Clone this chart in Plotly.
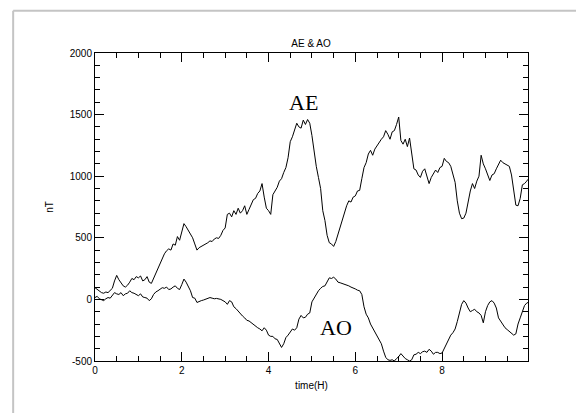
import plotly.graph_objects as go

# time (hours), sampled every 0.05 h, plus last sample
time_h = [round(i * 0.05, 2) for i in range(200)] + [9.98]

ae = [95, 80, 70, 55, 50, 60, 55, 75, 90, 150,
      195, 160, 130, 110, 100, 115, 140, 170, 160, 185,
      175, 190, 150, 160, 185, 140, 130, 170, 220, 260,
      300, 330, 370, 395, 410, 400, 450, 440, 510, 480,
      560, 615, 590, 560, 520, 500, 450, 400, 420, 430,
      440, 445, 460, 475, 470, 490, 500, 495, 520, 560,
      580, 690, 700, 670, 720, 690, 740, 700, 720, 760,
      690, 730, 770, 810, 820, 860, 880, 940, 830, 740,
      720, 690, 850, 880, 910, 960, 980, 1030, 1070, 1150,
      1280, 1320, 1380, 1430, 1400, 1390, 1455, 1420, 1460, 1430,
      1330, 1180, 1080, 990, 900, 720, 640, 520, 460, 450,
      430, 470, 530, 580, 650, 720, 760, 800, 790, 830,
      840, 880, 885, 980, 1070, 1110, 1180, 1210, 1170, 1220,
      1250, 1280, 1300, 1320, 1370, 1340, 1300, 1360, 1370, 1420,
      1480, 1290, 1260, 1300, 1240, 1310, 1200, 1060, 1050, 1010,
      990, 1040, 1060, 1000, 940, 990, 1020, 1050, 1030, 1070,
      1080, 1145, 1120, 1110, 1080, 1020, 950, 800, 700, 655,
      660, 700, 800, 880, 940, 900, 960, 1000, 1170, 1100,
      1060, 1010, 965, 1010, 1020, 1060, 1090, 1130, 1110, 1100,
      1090, 1080, 1010, 900, 765, 760, 820, 930, 940, 960,
      975]

ao = [15, 25, 5, -5, -10, 5, 15, 10, 30, 55,
      45, 40, 55, 30, 45, 50, 70, 55, 50, 40,
      30, 45, 20, 15, 10, -10, 5, 40, 60, 70,
      85, 95, 90, 100, 80, 85, 100, 110, 90, 80,
      120, 165, 140, 110, 70, 15, 10, -25, -15, -10,
      -5, 0, 5, 15, 10, 5, 8, 5, 0, -10,
      -20, -40, -10, -20, -60, -75, -95, -120, -135, -150,
      -170, -175, -190, -205, -215, -230, -240, -255, -230, -250,
      -290, -300, -300, -320, -325, -360, -390, -360, -310, -290,
      -260, -240, -250, -230, -160, -130, -150, -145, -120, -110,
      -20, 10, 50, 70, 90, 105, 110, 140, 175, 170,
      180, 165, 140, 135, 130, 125, 120, 110, 100, 95,
      85, 75, 70, 40, -60, -120, -150, -200, -230, -260,
      -295, -320, -360, -420, -470, -490, -495, -490, -500, -480,
      -465, -440, -460, -480, -490, -500, -490, -450, -445, -430,
      -440, -425, -420, -430, -405, -420, -445, -430, -430, -440,
      -435, -400, -360, -320, -290, -270, -240, -180, -100, -40,
      -10, -30, -70, -100, -90, -80, -100, -110, -130, -190,
      -100, -50, -20, -10, -30, -70, -150, -180, -200, -230,
      -245, -260, -270, -290, -280, -200, -150, -90, -50, -30,
      -25]

x_ticks = [0, 2, 4, 6, 8]
y_ticks = [-500, 0, 500, 1000, 1500, 2000]

fig = go.Figure()
fig.add_trace(go.Scatter(x=time_h, y=ae, mode="lines",
                         line=dict(color="black", width=1), showlegend=False))
fig.add_trace(go.Scatter(x=time_h, y=ao, mode="lines",
                         line=dict(color="black", width=1), showlegend=False))

axis_font = dict(family="Liberation Sans, Arial, sans-serif", size=10, color="black")

fig.update_layout(
    width=576, height=413,
    margin=dict(l=95, r=48, t=53, b=52),
    paper_bgcolor="white", plot_bgcolor="white",
    title=dict(text="AE &amp; AO", x=0.54, xanchor="center", y=0.895, yanchor="middle",
               font=dict(family="Liberation Sans, Arial, sans-serif", size=10, color="black")),
    xaxis=dict(range=[0, 9.98], tickmode="array", tickvals=x_ticks,
               ticktext=[str(v) for v in x_ticks],
               ticks="inside", ticklen=9, tickwidth=1, tickcolor="black",
               showline=True, linecolor="black", linewidth=1, mirror="ticks",
               showgrid=False, zeroline=False, tickfont=axis_font,
               minor=dict(dtick=0.5, ticks="inside", ticklen=5, tickcolor="black", showgrid=False),
               title=dict(text="time(H)", font=axis_font, standoff=6)),
    yaxis=dict(range=[-500, 2000], tickmode="array", tickvals=y_ticks,
               ticktext=[str(v) for v in y_ticks],
               ticks="inside", ticklen=9, tickwidth=1, tickcolor="black",
               showline=True, linecolor="black", linewidth=1, mirror="ticks",
               showgrid=False, zeroline=False, tickfont=axis_font,
               minor=dict(dtick=100, ticks="inside", ticklen=5, tickcolor="black", showgrid=False),
               title=dict(text="nT", font=axis_font, standoff=14)),
    annotations=[
        dict(text="AE", x=4.8, y=1600, xref="x", yref="y", showarrow=False,
             font=dict(family="Liberation Serif, Times New Roman, serif", size=22, color="black")),
        dict(text="AO", x=5.55, y=-230, xref="x", yref="y", showarrow=False,
             font=dict(family="Liberation Serif, Times New Roman, serif", size=22, color="black")),
    ],
    shapes=[
        dict(type="line", xref="paper", yref="paper", x0=-0.189, x1=1.12, y0=1.137, y1=1.137,
             line=dict(color="#c4c4c4", width=2)),
        dict(type="line", xref="paper", yref="paper", x0=-0.189, x1=-0.189, y0=1.137, y1=-0.18,
             line=dict(color="#c4c4c4", width=2)),
    ],
)

fig.write_html("out.html")
